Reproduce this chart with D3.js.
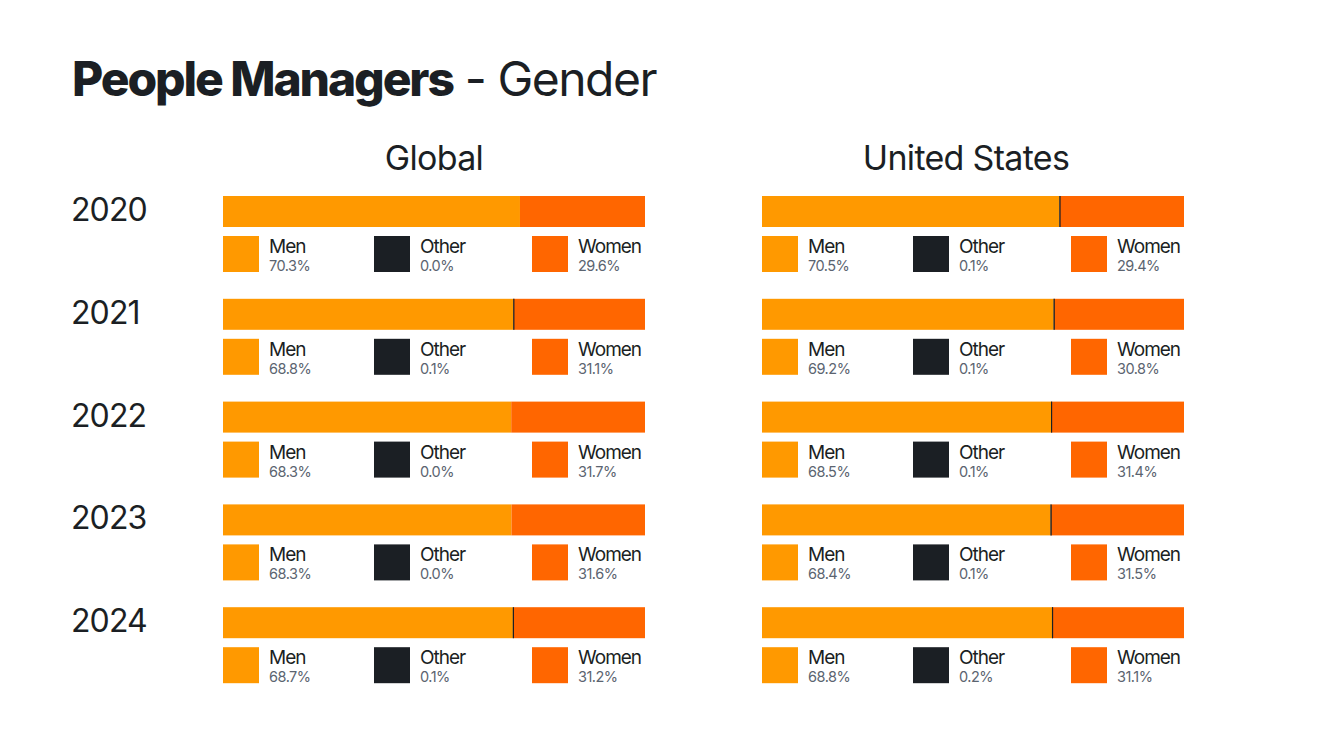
<!DOCTYPE html>
<html>
<head>
<meta charset="utf-8">
<script src="https://cdn.jsdelivr.net/npm/d3@7"></script>
<style>
  body { margin: 0; background: #fff; }
  svg { display: block; font-family: Inter, Roboto, sans-serif; }
</style>
</head>
<body>
<svg id="chart" width="1320" height="743"></svg>
<script>
// Chart data
const years = ["2020", "2021", "2022", "2023", "2024"];
const genders = ["Men", "Other", "Women"];
const regions = ["Global", "United States"];

const globalMen   = [70.3, 68.8, 68.3, 68.3, 68.7];
const globalOther = [0.0, 0.1, 0.0, 0.0, 0.1];
const globalWomen = [29.6, 31.1, 31.7, 31.6, 31.2];

const usMen   = [70.5, 69.2, 68.5, 68.4, 68.8];
const usOther = [0.1, 0.1, 0.1, 0.1, 0.2];
const usWomen = [29.4, 30.8, 31.4, 31.5, 31.1];

const colors = {Men: "#ff9900", Other: "#1b1f24", Women: "#ff6600"};
const ink = "#1b1f24";

const svg = d3.select("#chart");

// Title
const title = svg.append("text")
    .attr("x", 72).attr("y", 96)
    .attr("fill", ink)
    .attr("font-size", 48);
title.append("tspan").attr("font-weight", 800).attr("letter-spacing", -2.1).text("People Managers");
title.append("tspan").attr("font-weight", 400).attr("letter-spacing", -1.5).text(" - Gender");

const rows = years.map((y, i) => ({
    year: y,
    Global: {Men: globalMen[i], Other: globalOther[i], Women: globalWomen[i]},
    "United States": {Men: usMen[i], Other: usOther[i], Women: usWomen[i]}
}));

const y = d3.scaleBand().domain(years).range([196, 710]).paddingInner(0);
const barH = 31;

const panelX = d3.scaleOrdinal().domain(regions).range([223, 762]);
const titleShift = {Global: 0, "United States": -7};
const barW = 422;
const legendOffsets = [0, 151, 309];

// Year labels
svg.append("g").selectAll("text")
    .data(years)
    .join("text")
    .attr("x", 71)
    .attr("y", d => y(d) + 25)
    .attr("fill", ink)
    .attr("font-size", 32)
    .attr("letter-spacing", -0.9)
    .text(d => d);

regions.forEach(region => {
    const x0 = panelX(region);
    const x = d3.scaleLinear().range([x0, x0 + barW]);

    svg.append("text")
        .attr("x", x0 + barW / 2 + titleShift[region])
        .attr("y", 170)
        .attr("text-anchor", "middle")
        .attr("fill", ink)
        .attr("font-size", 34)
        .attr("letter-spacing", -0.7)
        .text(region);

    const stack = d3.stack().keys(genders).offset(d3.stackOffsetExpand);
    const series = stack(rows.map(r => ({year: r.year, ...r[region]})));

    const g = svg.append("g");
    g.selectAll("g.series")
        .data(series)
        .join("g")
        .attr("class", "series")
        .attr("fill", d => colors[d.key])
        .selectAll("rect")
        .data(d => d)
        .join("rect")
        .attr("x", d => x(d[0]))
        .attr("y", d => y(d.data.year))
        .attr("width", d => Math.max(0, x(d[1]) - x(d[0])))
        .attr("height", barH);

    // thin divider where "other" is non-zero
    g.selectAll("line.other")
        .data(series[1].filter(d => d.data.Other > 0))
        .join("line")
        .attr("x1", d => x(d[0]) + 0.5).attr("x2", d => x(d[0]) + 0.5)
        .attr("y1", d => y(d.data.year)).attr("y2", d => y(d.data.year) + barH)
        .attr("stroke", colors.Other)
        .attr("stroke-width", 1.2);

    // legends
    rows.forEach(r => {
        const top = y(r.year) + 40;
        const leg = svg.append("g").selectAll("g")
            .data(genders)
            .join("g")
            .attr("transform", (d, i) => `translate(${x0 + legendOffsets[i]},${top})`);
        leg.append("rect")
            .attr("width", 36).attr("height", 36)
            .attr("fill", d => colors[d]);
        leg.append("text")
            .attr("x", 46).attr("y", 17)
            .attr("fill", ink)
            .attr("font-size", 19)
            .attr("letter-spacing", -1)
            .text(d => d);
        leg.append("text")
            .attr("x", 46).attr("y", 35)
            .attr("fill", "#5b6470")
            .attr("font-size", 14.5)
            .attr("letter-spacing", -0.5)
            .text(d => r[region][d].toFixed(1) + "%");
    });
});
</script>
</body>
</html>
